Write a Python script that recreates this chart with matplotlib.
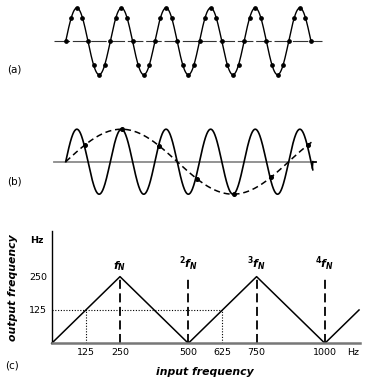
import numpy as np
import matplotlib
matplotlib.use('Agg')
import matplotlib.pyplot as plt

plt.rcParams['font.family'] = ['DejaVu Sans']
plt.rcParams['mathtext.fontset'] = 'custom'
plt.rcParams['mathtext.it'] = 'DejaVu Sans:italic:bold'
plt.rcParams['mathtext.rm'] = 'DejaVu Sans:bold'
plt.rcParams['mathtext.bf'] = 'DejaVu Sans:bold'

# ---------------- data ----------------
# panel (a): signal sampled 8 times per cycle
cycles_a = 5.5
samples_per_cycle_a = 8
# panel (b): signal (solid) and its alias (dashed)
cycles_b = 5.54
alias_ratio = 0.2          # alias frequency / signal frequency
alias_end = 5.58           # cycles of signal period covered by alias curve
sample_start_b = 0.433     # first sample (in signal cycles)
sample_step_b = 5 / 6      # sample interval (in signal cycles)
n_samples_b = 7
# panel (c): folding diagram
input_freq = [0, 250, 500, 750, 1000, 1125]
output_freq = [0, 250, 0, 250, 0, 125]
nyq_multiples = [250, 500, 750, 1000]
nyq_labels = ['$f_N$', '$^{2}f_N$', '$^{3}f_N$', '$^{4}f_N$']
x_ticks = [125, 250, 500, 625, 750, 1000, 1102]
x_tick_labels = ['125', '250', '500', '625', '750', '1000', 'Hz']
y_ticks = [125, 250]
y_tick_labels = ['125', '250']
example_in = [125, 625]
example_out = 125

# ---------------- layout ----------------
W, H = 368, 386
fig = plt.figure(figsize=(W / 100, H / 100), dpi=100)


def px_axes(x0, y0, x1, y1):
    return fig.add_axes([x0 / W, 1 - y1 / H, (x1 - x0) / W, (y1 - y0) / H])


X0, XSCALE = 65.7, 44.6     # pixel of t=0, pixels per cycle


def wave_axes(y0, y1, yc, amp):
    ax = px_axes(40, y0, 345, y1)
    ax.set_xlim((40 - X0) / XSCALE, (345 - X0) / XSCALE)
    ax.set_ylim(-(y1 - yc) / amp, (yc - y0) / amp)
    ax.axis('off')
    return ax


# panel (a)
ax_a = wave_axes(0, 85, 41.3, 33.4)
t = np.linspace(0, cycles_a, 800)
ax_a.plot([-0.26, 5.75], [0, 0], color='#333333', lw=0.8, dashes=(14, 2.5))
ax_a.plot(t, np.sin(2 * np.pi * t), color='black', lw=1.0)
ts = np.arange(0, int(cycles_a * samples_per_cycle_a) + 1) / samples_per_cycle_a
ax_a.plot(ts, np.sin(2 * np.pi * ts), 'o', color='black', ms=2.4)

# panel (b)
ax_b = wave_axes(115, 205, 161.7, 32.5)
ax_b.plot([-0.26, 5.61], [0, 0], color='#8a8a8a', lw=1.3)
tb = np.linspace(0, cycles_b, 800)
ax_b.plot(tb, np.sin(2 * np.pi * tb), color='black', lw=1.2)
ax_b.plot([cycles_b - 0.01, cycles_b], [np.sin(2 * np.pi * (cycles_b - 0.01)), 0], color='black', lw=1.2)
ax_b.plot([cycles_b, 5.61], [0, 0], color='black', lw=1.2)
talias = np.linspace(0, alias_end, 400)
ax_b.plot(talias, np.sin(2 * np.pi * alias_ratio * talias), color='black', lw=1.1, dashes=(4, 2.5))
tsb = sample_start_b + np.arange(n_samples_b) * sample_step_b
ax_b.plot(tsb, np.sin(2 * np.pi * alias_ratio * tsb), 'o', color='black', ms=2.6)

# panel (c)
ax_c = px_axes(51.7, 231.3, 360.4, 343.3)
ax_c.set_xlim(0, 1130)
ax_c.set_ylim(0, 420)
ax_c.plot(input_freq, output_freq, color='black', lw=1.1, clip_on=False)
for xm in nyq_multiples:
    ax_c.plot([xm, xm], [0, 252], color='black', lw=1.3, dashes=(5, 2.5))
for xm, lab in zip(nyq_multiples, nyq_labels):
    ax_c.text(xm, 262, lab, ha='center', va='bottom', fontsize=8)
ax_c.plot([0, max(example_in)], [example_out, example_out], color='black', lw=0.8, ls=(0, (1, 1.5)))
for xe in example_in:
    ax_c.plot([xe, xe], [0, example_out], color='black', lw=0.8, ls=(0, (1, 1.5)))

for s in ['top', 'right']:
    ax_c.spines[s].set_visible(False)
ax_c.spines['left'].set_linewidth(1.0)
ax_c.spines['bottom'].set_color('#777777')
ax_c.spines['bottom'].set_linewidth(1.8)
ax_c.set_xticks(x_ticks)
ax_c.set_xticklabels(x_tick_labels, fontsize=6.8)
ax_c.set_yticks(y_ticks)
ax_c.set_yticklabels(y_tick_labels, fontsize=6.8)
ax_c.tick_params(length=0)
ax_c.tick_params(axis='x', pad=3.5)
ax_c.tick_params(axis='y', pad=3.5)
ax_c.text(-54, 387, 'Hz', ha='center', va='center', fontsize=6.8, fontweight='bold', clip_on=False)

fig.text(205 / W, 1 - 372 / H, 'input frequency', ha='center', va='center',
         fontsize=7.8, fontweight='bold', fontstyle='italic')
fig.text(13 / W, 1 - 288 / H, 'output frequency', ha='center', va='center',
         rotation=90, fontsize=7.8, fontweight='bold', fontstyle='italic')

fig.text(7 / W, 1 - 70 / H, '(a)', ha='left', va='center', fontsize=7.5)
fig.text(7 / W, 1 - 182 / H, '(b)', ha='left', va='center', fontsize=7.5)
fig.text(5 / W, 1 - 365 / H, '(c)', ha='left', va='center', fontsize=7.5)

fig.savefig('out.png', dpi=100)
